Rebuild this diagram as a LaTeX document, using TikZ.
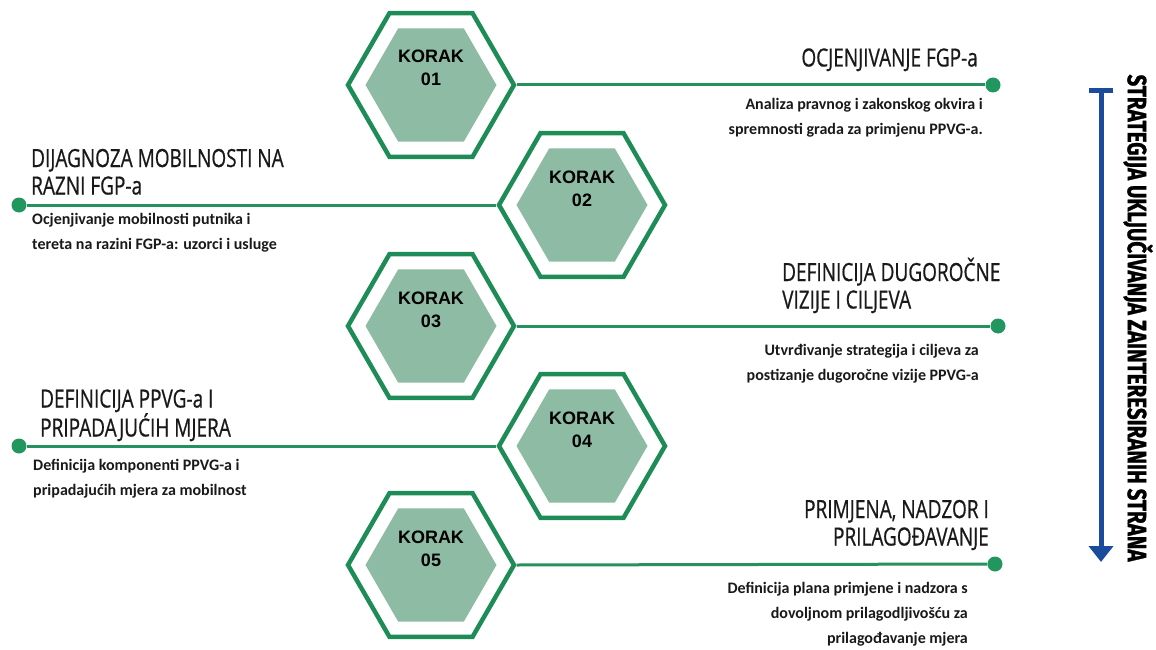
\documentclass[tikz,border=0pt]{standalone}
\usepackage{fontspec}
\setmainfont{Carlito}
\newfontfamily\titlefont[FakeStretch=0.76,FakeBold=0.6]{Open Sans}
\newfontfamily\korakfont{Liberation Sans}
\newfontfamily\sidefont[FakeBold=1.2]{Fira Sans}
\usetikzlibrary{shapes.geometric,arrows.meta}
\definecolor{hexline}{HTML}{1E8C57}
\definecolor{hexfill}{HTML}{8EBBA3}
\definecolor{dotgreen}{HTML}{21975F}
\definecolor{linegreen}{HTML}{25915C}
\definecolor{arrowblue}{HTML}{1B4C9C}
\tikzset{
  outerhex/.style={regular polygon, regular polygon sides=6, minimum size=166pt, draw=hexline, line width=4.5pt, inner sep=0pt},
  innerhex/.style={regular polygon, regular polygon sides=6, minimum size=131pt, fill=hexfill, draw=none, inner sep=0pt},
  koraklabel/.style={font=\korakfont\bfseries\fontsize{18}{23}\selectfont, align=center, inner sep=0pt, anchor=base},
  enddot/.style={circle, fill=dotgreen, minimum size=15pt, inner sep=0pt},
  connector/.style={draw=linegreen, line width=3pt},
  titletext/.style={font=\titlefont\fontsize{25}{27.5}\selectfont, inner sep=0pt, text=black!90},
  bodytext/.style={font=\bfseries\fontsize{16}{25.5}\selectfont, inner sep=0pt, text=black!90},
}
\begin{document}
\begin{tikzpicture}[x=1pt,y=-1pt]
\useasboundingbox (0,0) rectangle (1156,650);
% hexagons
\foreach \n/\x/\y in {1/431/85, 2/582/205, 3/431/326, 4/582/446, 5/431/565}{
  \node[outerhex] (h\n) at (\x,\y) {};
  \node[innerhex] (i\n) at (\x,\y) {};
  \node[koraklabel] (k\n) at (\x,\y+1) {KORAK\\0\n};
}
% dots
\node[enddot] (d1) at (993,85) {};
\node[enddot] (d2) at (19,205) {};
\node[enddot] (d3) at (998,326) {};
\node[enddot] (d4) at (19,446) {};
\node[enddot] (d5) at (995,564) {};
% connectors
\draw[connector] (h1.east) -- (d1);
\draw[connector] (h2.west) -- (d2);
\draw[connector] (h3.east) -- (d3);
\draw[connector] (h4.west) -- (d4);
\draw[connector] (h5.east) -- (d5);
% texts step 1
\node[titletext, anchor=base east] (t1) at (978,66.5) {OCJENJIVANJE FGP-a};
\node[bodytext, anchor=base east, align=right] (b1) at (983,134.6) {Analiza pravnog i zakonskog okvira i\\spremnosti grada za primjenu PPVG-a.};
% step 2
\node[titletext, anchor=base west, align=left] (t2) at (31,194.5) {DIJAGNOZA MOBILNOSTI NA\\RAZNI FGP-a};
\node[bodytext, anchor=base west, align=left] (b2) at (32,249.6) {Ocjenjivanje mobilnosti putnika i\\tereta na razini FGP-a: uzorci i usluge};
% step 3
\node[titletext, anchor=base west, align=left] (t3) at (782,308.5) {DEFINICIJA DUGOROČNE\\VIZIJE I CILJEVA};
\node[bodytext, anchor=base east, align=right] (b3) at (979,380.6) {Utvrđivanje strategija i ciljeva za\\postizanje dugoročne vizije PPVG-a};
% step 4
\node[titletext, anchor=base west, align=left] (t4) at (40,436.5) {DEFINICIJA PPVG-a I\\PRIPADAJUĆIH MJERA};
\node[bodytext, anchor=base west, align=left] (b4) at (33,495.6) {Definicija komponenti PPVG-a i\\pripadajućih mjera za mobilnost};
% step 5
\node[titletext, anchor=base east, align=right] (t5) at (989,545.5) {PRIMJENA, NADZOR I\\PRILAGOĐAVANJE};
\node[bodytext, anchor=base east, align=right, font=\bfseries\fontsize{16}{25}\selectfont] (b5) at (968,643) {Definicija plana primjene i nadzora s\\dovoljnom prilagodljivošću za\\prilagođavanje mjera};
% side arrow
\coordinate (atop) at (1101,88);
\coordinate (abot) at (1101,562);
\draw[draw=arrowblue, line width=5pt, {Bar[width=24pt,line width=5pt]}-{Triangle[width=24pt,length=16pt]}] (atop) -- (abot);
\node[rotate=-90, inner sep=0pt, text=black] (side) at (1138,318) {\resizebox{487pt}{25pt}{\sidefont\bfseries STRATEGIJA UKLJUČIVANJA ZAINTERESIRANIH STRANA}};
\end{tikzpicture}
\end{document}
